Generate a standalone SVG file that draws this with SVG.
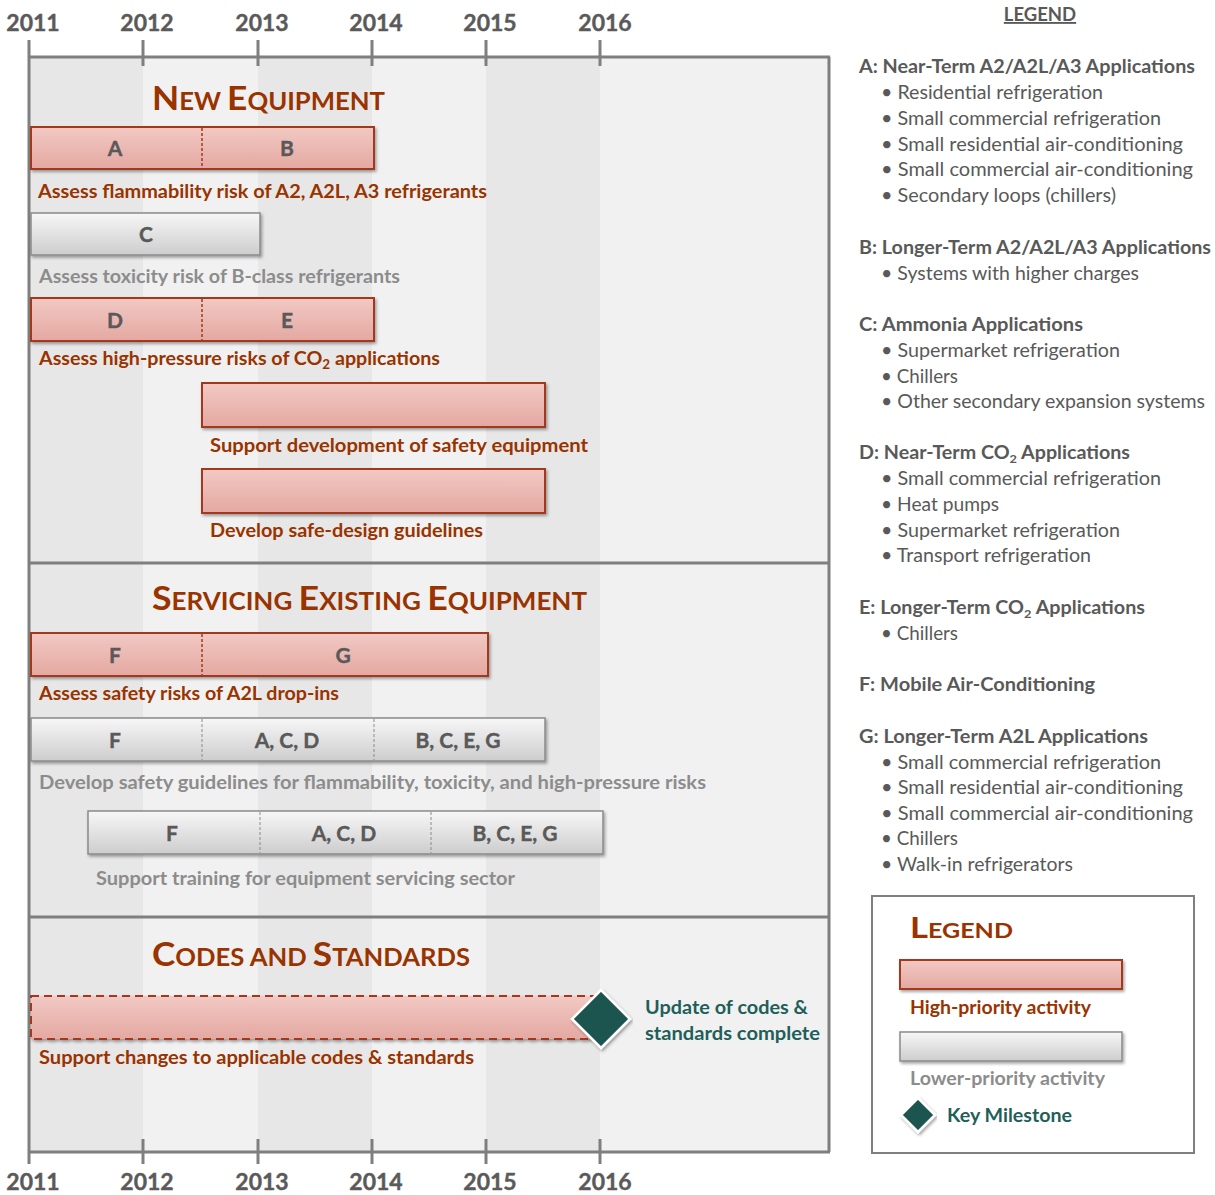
<svg xmlns="http://www.w3.org/2000/svg" width="1215" height="1195" viewBox="0 0 1215 1195">
  <defs>
    <linearGradient id="gPink" x1="0" y1="0" x2="0" y2="1">
      <stop offset="0" stop-color="#f2c9c4"/>
      <stop offset="1" stop-color="#e4a8a1"/>
    </linearGradient>
    <linearGradient id="gGray" x1="0" y1="0" x2="0" y2="1">
      <stop offset="0" stop-color="#f7f7f7"/>
      <stop offset="1" stop-color="#cdcdcd"/>
    </linearGradient>
    <filter id="shadow" x="-5%" y="-20%" width="110%" height="150%">
      <feDropShadow dx="1.5" dy="2" stdDeviation="1.5" flood-color="#000" flood-opacity="0.35"/>
    </filter>
    <style>
      text { font-family: Lato, "Open Sans", "Liberation Sans", sans-serif; }
      .yr { font-size: 23px; font-weight: 700; fill: #5a5a5a; text-anchor: middle; stroke: #5a5a5a; stroke-width: 0.4; }
      .axis { stroke: #7f7f7f; stroke-width: 3; fill: none; }
      .bandD { fill: #e7e7e7; }
      .bandL { fill: #f1f1f1; }
      .hi { fill: url(#gPink); stroke: #a3391b; stroke-width: 2; filter: url(#shadow); }
      .lo { fill: url(#gGray); stroke: #8a8a8a; stroke-width: 1.5; filter: url(#shadow); }
      .divHi { stroke: #a3391b; stroke-width: 1.5; stroke-dasharray: 3 2; }
      .divLo { stroke: #8a8a8a; stroke-width: 1; stroke-dasharray: 3 2; }
      .let { font-size: 21px; font-weight: 700; fill: #595959; text-anchor: middle; stroke: #595959; stroke-width: 0.4; }
      .lblHi { font-size: 19px; font-weight: 700; fill: #993300; }
      .lblLo { font-size: 19px; font-weight: 700; fill: #8c8c8c; }
      .sec { font-weight: 700; fill: #993300; }
      .big { font-size: 33px; }
      .sm { font-size: 24px; }
      .ms { fill: #1b5550; stroke: #ffffff; stroke-width: 2.5; filter: url(#shadow); }
      .msTxt { font-size: 19px; font-weight: 700; fill: #1f5f5a; }
      .lgH { font-size: 18.5px; font-weight: 700; fill: #595959; }
      .lgB { font-size: 18.5px; font-weight: 400; fill: #595959; }
    </style>
  </defs>

  <rect x="0" y="0" width="1215" height="1195" fill="#ffffff"/>

  <!-- year bands -->
  <g id="bands">
    <rect class="bandD" x="29" y="57" width="114" height="1095"/>
    <rect class="bandL" x="143" y="57" width="115" height="1095"/>
    <rect class="bandD" x="258" y="57" width="114" height="1095"/>
    <rect class="bandL" x="372" y="57" width="114" height="1095"/>
    <rect class="bandD" x="486" y="57" width="114" height="1095"/>
    <rect class="bandL" x="600" y="57" width="229" height="1095"/>
  </g>

  <!-- frame, section dividers and time axes -->
  <g id="frame">
    <line class="axis" x1="29" y1="57" x2="830" y2="57"/>
    <line class="axis" x1="29" y1="1152" x2="830" y2="1152"/>
    <line class="axis" x1="29" y1="40" x2="29" y2="1164"/>
    <line class="axis" x1="829" y1="57" x2="829" y2="1152"/>
    <line class="axis" x1="29" y1="563" x2="829" y2="563"/>
    <line class="axis" x1="29" y1="917" x2="829" y2="917"/>
    <g class="axis">
      <line x1="143" y1="40" x2="143" y2="66"/>
      <line x1="258" y1="40" x2="258" y2="66"/>
      <line x1="372" y1="40" x2="372" y2="66"/>
      <line x1="486" y1="40" x2="486" y2="66"/>
      <line x1="600" y1="40" x2="600" y2="66"/>
      <line x1="143" y1="1139" x2="143" y2="1164"/>
      <line x1="258" y1="1139" x2="258" y2="1164"/>
      <line x1="372" y1="1139" x2="372" y2="1164"/>
      <line x1="486" y1="1139" x2="486" y2="1164"/>
      <line x1="600" y1="1139" x2="600" y2="1164"/>
    </g>
    <g id="yearsTop">
      <text class="yr" x="33" y="31">2011</text>
      <text class="yr" x="147" y="31">2012</text>
      <text class="yr" x="262" y="31">2013</text>
      <text class="yr" x="376" y="31">2014</text>
      <text class="yr" x="490" y="31">2015</text>
      <text class="yr" x="605" y="31">2016</text>
    </g>
    <g id="yearsBottom">
      <text class="yr" x="33" y="1190">2011</text>
      <text class="yr" x="147" y="1190">2012</text>
      <text class="yr" x="262" y="1190">2013</text>
      <text class="yr" x="376" y="1190">2014</text>
      <text class="yr" x="490" y="1190">2015</text>
      <text class="yr" x="605" y="1190">2016</text>
    </g>
  </g>

  <!-- section titles -->
  <text class="sec" x="152" y="110" textLength="233" lengthAdjust="spacingAndGlyphs"><tspan class="big">N</tspan><tspan class="sm">EW </tspan><tspan class="big">E</tspan><tspan class="sm">QUIPMENT</tspan></text>
  <text class="sec" x="152" y="610" textLength="435" lengthAdjust="spacingAndGlyphs"><tspan class="big">S</tspan><tspan class="sm">ERVICING </tspan><tspan class="big">E</tspan><tspan class="sm">XISTING </tspan><tspan class="big">E</tspan><tspan class="sm">QUIPMENT</tspan></text>
  <text class="sec" x="152" y="966" textLength="318" lengthAdjust="spacingAndGlyphs"><tspan class="big">C</tspan><tspan class="sm">ODES AND </tspan><tspan class="big">S</tspan><tspan class="sm">TANDARDS</tspan></text>

  <!-- New equipment activities -->
  <g id="flammability">
    <rect class="hi" x="31" y="127" width="343" height="42"/>
    <line class="divHi" x1="202" y1="128" x2="202" y2="168"/>
    <text class="let" x="115" y="156">A</text>
    <text class="let" x="287" y="156">B</text>
    <text class="lblHi" x="38" y="198" textLength="449" lengthAdjust="spacingAndGlyphs">Assess flammability risk of A2, A2L, A3 refrigerants</text>
  </g>
  <g id="toxicity">
    <rect class="lo" x="31" y="213" width="229" height="42"/>
    <text class="let" x="146" y="242">C</text>
    <text class="lblLo" x="39" y="283" textLength="361" lengthAdjust="spacingAndGlyphs">Assess toxicity risk of B-class refrigerants</text>
  </g>
  <g id="highPressure">
    <rect class="hi" x="31" y="298" width="343" height="43"/>
    <line class="divHi" x1="202" y1="299" x2="202" y2="340"/>
    <text class="let" x="115" y="328">D</text>
    <text class="let" x="287" y="328">E</text>
    <text class="lblHi" x="39" y="365" textLength="401" lengthAdjust="spacingAndGlyphs">Assess high-pressure risks of CO<tspan font-size="13" dy="4">2</tspan><tspan dy="-4"> applications</tspan></text>
  </g>
  <g id="safetyEquipment">
    <rect class="hi" x="202" y="383" width="343" height="44"/>
    <text class="lblHi" x="210" y="452" textLength="378" lengthAdjust="spacingAndGlyphs">Support development of safety equipment</text>
  </g>
  <g id="safeDesign">
    <rect class="hi" x="202" y="469" width="343" height="44"/>
    <text class="lblHi" x="210" y="537" textLength="273" lengthAdjust="spacingAndGlyphs">Develop safe-design guidelines</text>
  </g>

  <!-- Servicing activities -->
  <g id="dropIns">
    <rect class="hi" x="31" y="633" width="457" height="43"/>
    <line class="divHi" x1="202" y1="634" x2="202" y2="675"/>
    <text class="let" x="115" y="663">F</text>
    <text class="let" x="343" y="663">G</text>
    <text class="lblHi" x="39" y="700" textLength="300" lengthAdjust="spacingAndGlyphs">Assess safety risks of A2L drop-ins</text>
  </g>
  <g id="servicingGuidelines">
    <rect class="lo" x="31" y="718" width="514" height="43"/>
    <line class="divLo" x1="202" y1="719" x2="202" y2="760"/>
    <line class="divLo" x1="374" y1="719" x2="374" y2="760"/>
    <text class="let" x="115" y="748">F</text>
    <text class="let" x="287" y="748">A, C, D</text>
    <text class="let" x="458" y="748">B, C, E, G</text>
    <text class="lblLo" x="39" y="789" textLength="667" lengthAdjust="spacingAndGlyphs">Develop safety guidelines for flammability, toxicity, and high-pressure  risks</text>
  </g>
  <g id="training">
    <rect class="lo" x="88" y="811" width="515" height="43"/>
    <line class="divLo" x1="260" y1="812" x2="260" y2="853"/>
    <line class="divLo" x1="431" y1="812" x2="431" y2="853"/>
    <text class="let" x="172" y="841">F</text>
    <text class="let" x="344" y="841">A, C, D</text>
    <text class="let" x="515" y="841">B, C, E, G</text>
    <text class="lblLo" x="96" y="885" textLength="419" lengthAdjust="spacingAndGlyphs">Support training for equipment servicing sector</text>
  </g>

  <!-- Codes and standards -->
  <g id="codesChanges">
    <rect x="31" y="996" width="569" height="43" fill="url(#gPink)" stroke="#a3391b" stroke-width="2" stroke-dasharray="8 5" filter="url(#shadow)"/>
    <text class="lblHi" x="39" y="1064" textLength="435" lengthAdjust="spacingAndGlyphs">Support changes to applicable codes &amp; standards</text>
  </g>
  <g id="codesMilestone">
    <polygon class="ms" points="601,990 630,1019 601,1048 572,1019"/>
    <text class="msTxt" x="645" y="1014" textLength="163" lengthAdjust="spacingAndGlyphs">Update of codes &amp;</text>
    <text class="msTxt" x="645" y="1040" textLength="175" lengthAdjust="spacingAndGlyphs">standards complete</text>
  </g>

  <!-- application key -->
  <g id="appKey">
    <text class="lgH" x="1040" y="21" text-anchor="middle" text-decoration="underline">LEGEND</text>
    <text class="lgH" x="859" y="73" textLength="336" lengthAdjust="spacingAndGlyphs">A: Near-Term A2/A2L/A3 Applications</text>
    <text class="lgB" x="881" y="99" textLength="222" lengthAdjust="spacingAndGlyphs">• Residential refrigeration</text>
    <text class="lgB" x="881" y="125" textLength="280" lengthAdjust="spacingAndGlyphs">• Small commercial refrigeration</text>
    <text class="lgB" x="881" y="151" textLength="302" lengthAdjust="spacingAndGlyphs">• Small residential air-conditioning</text>
    <text class="lgB" x="881" y="176" textLength="312" lengthAdjust="spacingAndGlyphs">• Small commercial air-conditioning</text>
    <text class="lgB" x="881" y="202" textLength="235" lengthAdjust="spacingAndGlyphs">• Secondary loops (chillers)</text>

    <text class="lgH" x="859" y="254" textLength="352" lengthAdjust="spacingAndGlyphs">B: Longer-Term A2/A2L/A3 Applications</text>
    <text class="lgB" x="881" y="280" textLength="258" lengthAdjust="spacingAndGlyphs">• Systems with higher charges</text>

    <text class="lgH" x="859" y="331" textLength="224" lengthAdjust="spacingAndGlyphs">C: Ammonia Applications</text>
    <text class="lgB" x="881" y="357" textLength="239" lengthAdjust="spacingAndGlyphs">• Supermarket refrigeration</text>
    <text class="lgB" x="881" y="383" textLength="77" lengthAdjust="spacingAndGlyphs">• Chillers</text>
    <text class="lgB" x="881" y="408" textLength="324" lengthAdjust="spacingAndGlyphs">• Other secondary expansion systems</text>

    <text class="lgH" x="859" y="459" textLength="271" lengthAdjust="spacingAndGlyphs">D: Near-Term CO<tspan font-size="12" dy="4">2</tspan><tspan dy="-4"> Applications</tspan></text>
    <text class="lgB" x="881" y="485" textLength="280" lengthAdjust="spacingAndGlyphs">• Small commercial refrigeration</text>
    <text class="lgB" x="881" y="511" textLength="118" lengthAdjust="spacingAndGlyphs">• Heat pumps</text>
    <text class="lgB" x="881" y="537" textLength="239" lengthAdjust="spacingAndGlyphs">• Supermarket refrigeration</text>
    <text class="lgB" x="881" y="562" textLength="210" lengthAdjust="spacingAndGlyphs">• Transport refrigeration</text>

    <text class="lgH" x="859" y="614" textLength="286" lengthAdjust="spacingAndGlyphs">E: Longer-Term CO<tspan font-size="12" dy="4">2</tspan><tspan dy="-4"> Applications</tspan></text>
    <text class="lgB" x="881" y="640" textLength="77" lengthAdjust="spacingAndGlyphs">• Chillers</text>

    <text class="lgH" x="859" y="691" textLength="236" lengthAdjust="spacingAndGlyphs">F: Mobile Air-Conditioning</text>

    <text class="lgH" x="859" y="743" textLength="289" lengthAdjust="spacingAndGlyphs">G: Longer-Term A2L Applications</text>
    <text class="lgB" x="881" y="769" textLength="280" lengthAdjust="spacingAndGlyphs">• Small commercial refrigeration</text>
    <text class="lgB" x="881" y="794" textLength="302" lengthAdjust="spacingAndGlyphs">• Small residential air-conditioning</text>
    <text class="lgB" x="881" y="820" textLength="312" lengthAdjust="spacingAndGlyphs">• Small commercial air-conditioning</text>
    <text class="lgB" x="881" y="845" textLength="77" lengthAdjust="spacingAndGlyphs">• Chillers</text>
    <text class="lgB" x="881" y="871" textLength="192" lengthAdjust="spacingAndGlyphs">• Walk-in refrigerators</text>
  </g>

  <!-- priority key box -->
  <g id="priorityKey">
    <rect x="872" y="896" width="322" height="257" fill="#ffffff" stroke="#7f7f7f" stroke-width="2"/>
    <text class="sec" x="910" y="938" textLength="103" lengthAdjust="spacingAndGlyphs"><tspan font-size="29">L</tspan><tspan font-size="21">EGEND</tspan></text>
    <rect class="hi" x="900" y="960" width="222" height="29"/>
    <text class="lblHi" x="910" y="1014" textLength="181" lengthAdjust="spacingAndGlyphs">High-priority activity</text>
    <rect class="lo" x="900" y="1032" width="222" height="29"/>
    <text class="lblLo" x="910" y="1085" textLength="195" lengthAdjust="spacingAndGlyphs">Lower-priority activity</text>
    <polygon class="ms" points="918,1098 935,1115 918,1132 901,1115"/>
    <text class="msTxt" x="947" y="1122" textLength="125" lengthAdjust="spacingAndGlyphs">Key Milestone</text>
  </g>
</svg>
